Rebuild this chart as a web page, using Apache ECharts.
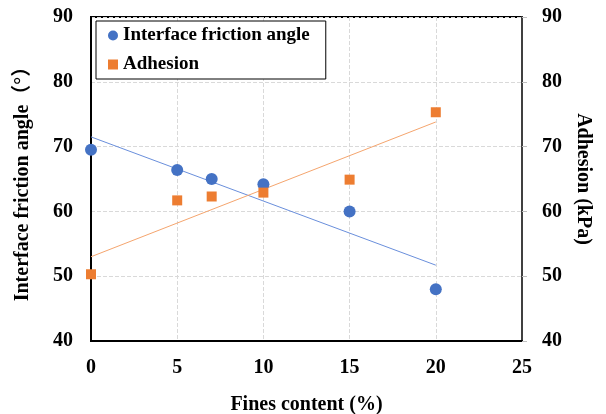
<!DOCTYPE html>
<html>
<head>
<meta charset="utf-8">
<script src="https://cdn.jsdelivr.net/npm/echarts@6/dist/echarts.min.js"></script>
<style>
html,body{margin:0;padding:0;background:#fff;}
#c{width:606px;height:414px;}
</style>
</head>
<body>
<div id="c"></div>
<script>
// Data
const finesContent = [0, 5, 7, 10, 15, 20];
const frictionAngle = [69.5, 66.4, 65.0, 64.2, 60.0, 48.0];
const adhesion = [50.3, 61.7, 62.3, 62.9, 64.9, 75.3];
// Linear trend lines (endpoints)
const trendX = [0, 20];
const frictionTrend = [71.5, 51.7];
const adhesionTrend = [53.0, 73.8];
const xTicks = [0, 5, 10, 15, 20, 25];
const yTicks = [40, 50, 60, 70, 80, 90];

const FONT = '"Liberation Serif", "Noto Sans CJK SC", serif';
const chart = echarts.init(document.getElementById('c'), null, {renderer: 'canvas'});

const zip = (xs, ys) => xs.map((x, i) => [x, ys[i]]);

const labelStyle = {fontFamily: FONT, fontWeight: 'bold', fontSize: 20, color: '#000'};

chart.setOption({
  animation: false,
  backgroundColor: '#fff',
  grid: {left: 91, right: 84, top: 17, bottom: 73, show: true, borderColor: '#000', borderWidth: 2,
         containLabel: false, outerBoundsMode: 'none'},
  legend: {
    data: [{name: 'Interface friction angle', icon: 'circle'}, {name: 'Adhesion', icon: 'rect'}],
    orient: 'vertical', left: 96, top: 21,
    itemWidth: 10, itemHeight: 10, itemGap: 10,
    padding: [5, 16, 5, 12],
    borderColor: '#000', borderWidth: 1, backgroundColor: '#fff',
    textStyle: {fontFamily: FONT, fontWeight: 'bold', fontSize: 19, color: '#000'}
  },
  xAxis: {
    type: 'value', min: xTicks[0], max: xTicks[xTicks.length - 1], interval: 5,
    name: 'Fines content (%)', nameLocation: 'middle', nameGap: 54,
    nameTextStyle: labelStyle,
    axisLine: {show: true, lineStyle: {color: '#000', width: 2}},
    axisTick: {show: false},
    axisLabel: Object.assign({margin: 17}, labelStyle),
    splitLine: {show: true, lineStyle: {color: '#d9d9d9', type: 'dashed', width: 1}}
  },
  yAxis: [
    {
      type: 'value', min: yTicks[0], max: yTicks[yTicks.length - 1], interval: 10, position: 'left',
      name: 'Interface friction angle（°）', nameLocation: 'middle', nameGap: 58,
      nameTextStyle: labelStyle,
      axisLine: {show: true, lineStyle: {color: '#000', width: 2}},
      axisTick: {show: false},
      axisLabel: Object.assign({margin: 18}, labelStyle),
      splitLine: {show: true, lineStyle: {color: '#d9d9d9', type: 'dashed', width: 1}}
    },
    {
      type: 'value', min: yTicks[0], max: yTicks[yTicks.length - 1], interval: 10, position: 'right',
      name: 'Adhesion (kPa)', nameLocation: 'middle', nameGap: 51, nameRotate: -90,
      nameTextStyle: labelStyle,
      axisLine: {show: true, lineStyle: {color: '#404040', width: 2}},
      axisTick: {show: true, length: 5, lineStyle: {color: '#bfbfbf'}},
      axisLabel: Object.assign({margin: 20}, labelStyle),
      splitLine: {show: false}
    }
  ],
  series: [
    {
      name: 'Interface friction angle trend', type: 'line', data: zip(trendX, frictionTrend),
      showSymbol: false, symbol: 'none', lineStyle: {color: '#6a8fdc', width: 1}, z: 2, silent: true
    },
    {
      name: 'Adhesion trend', type: 'line', yAxisIndex: 1, data: zip(trendX, adhesionTrend),
      showSymbol: false, symbol: 'none', lineStyle: {color: '#f5a56e', width: 1}, z: 2, silent: true
    },
    {
      name: 'Interface friction angle', type: 'scatter', data: zip(finesContent, frictionAngle),
      symbol: 'circle', symbolSize: 12, itemStyle: {color: '#4472c4', opacity: 1}, z: 3
    },
    {
      name: 'Adhesion', type: 'scatter', yAxisIndex: 1, data: zip(finesContent, adhesion),
      symbol: 'rect', symbolSize: 10, itemStyle: {color: '#ed7d31', opacity: 1}, z: 3
    }
  ]
});
</script>
</body>
</html>
